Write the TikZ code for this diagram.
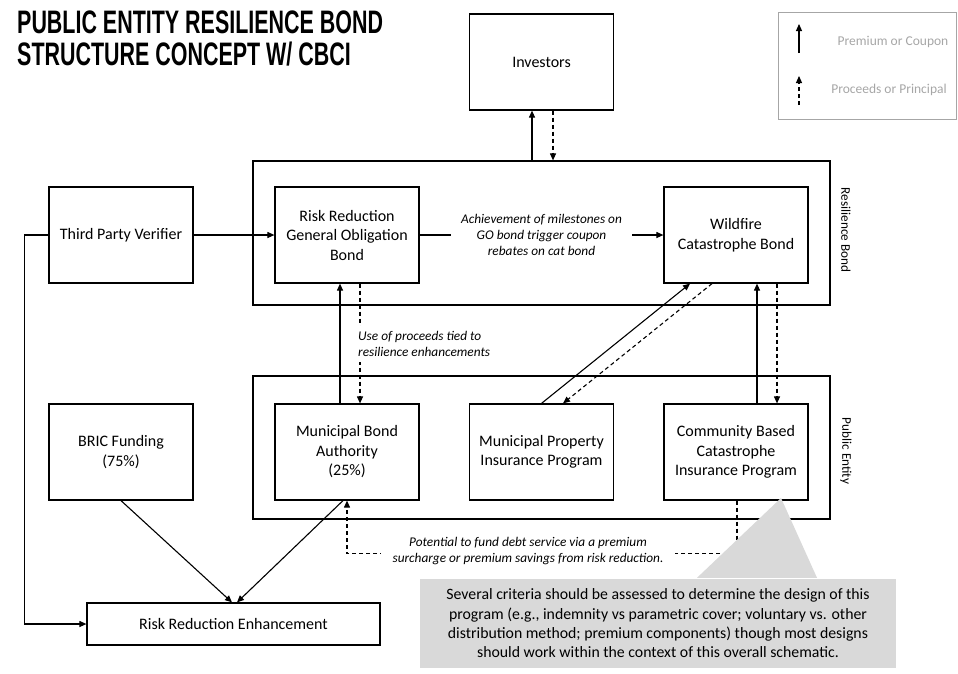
\documentclass[tikz,border=0pt]{standalone}
\usepackage{fontspec}
\setmainfont{Carlito}
\newfontfamily\titlefont[FakeStretch=0.66]{Liberation Sans Bold}
\usetikzlibrary{arrows.meta,positioning}
\definecolor{calloutgray}{HTML}{D9D9D9}
\definecolor{legendgray}{HTML}{A6A6A6}

\begin{document}
\begin{tikzpicture}[x=1pt,y=-1pt,
      block/.style={draw,line width=1.2pt,minimum width=144pt,minimum height=96pt,inner sep=2pt,align=center,font=\fontsize{16}{19.5}\selectfont},
      frame/.style={draw,line width=1.2pt,minimum width=577pt,minimum height=144pt,inner sep=0pt},
      note/.style={fill=white,align=center,font=\fontsize{13.3}{16}\selectfont\itshape},
      side/.style={rotate=-90,inner sep=1pt,font=\fontsize{13.2}{15}\selectfont},
      legendtext/.style={text=legendgray,inner sep=1pt,font=\fontsize{13.5}{15}\selectfont},
      flow/.style={-{Triangle[length=7pt,width=6pt]},line width=1.1pt},
      fund/.style={flow,dash pattern=on 4pt off 3pt}
    ]
      \useasboundingbox (0,0) rectangle (958,673);

      % title and legend
      \node[anchor=north west,align=left,inner sep=0pt,font=\titlefont\fontsize{32.5}{32}\selectfont] (title) at (17,11) {PUBLIC ENTITY RESILIENCE BOND\\STRUCTURE CONCEPT W/ CBCI};
      \node[draw=legendgray,line width=1pt,minimum width=178pt,minimum height=107pt] (legend) at (867,65.5) {};
      \coordinate (lsol) at (799,53);
      \coordinate (lsoltip) at (799,24);
      \coordinate (lfund) at (799,105);
      \coordinate (lfundtip) at (799,76);
      \draw[flow] (lsol) -- (lsoltip);
      \draw[fund] (lfund) -- (lfundtip);
      \node[legendtext] (lprem) at (893,42) {Premium or Coupon};
      \node[legendtext] (lproc) at (889,90) {Proceeds or Principal};

      % frames
      \node[frame] (rbond) at (541.5,233) {};
      \node[side] (rbondlab) at (846,230) {Resilience Bond};
      \node[frame,minimum height=143pt] (pent) at (541.5,447.5) {};
      \node[side] (pentlab) at (846,451) {Public Entity};

      % blocks
      \node[block] (inv) at (541.5,62) {Investors};
      \node[block] (tpv) at (121,235) {Third Party Verifier};
      \node[block] (gob) at (347,235) {Risk Reduction\\General Obligation\\Bond};
      \node[block] (cat) at (736,235) {Wildfire\\Catastrophe Bond};
      \node[block] (bric) at (121,452) {BRIC Funding\\(75\%)};
      \node[block] (mba) at (347,452) {Municipal Bond\\Authority\\(25\%)};
      \node[block] (mpip) at (541.5,452) {Municipal Property\\Insurance Program};
      \node[block] (cbci) at (736,452) {Community Based\\Catastrophe\\Insurance Program};
      \node[block,minimum width=293pt,minimum height=42pt] (rre) at (233.5,624) {Risk Reduction Enhancement};

      % flows
      \draw[flow] ([xshift=-9.5pt]rbond.north) -- ([xshift=-9.5pt]inv.south);
      \draw[fund] ([xshift=11.5pt]inv.south) -- ([xshift=11.5pt]rbond.north);
      \draw[flow] (tpv) -- (gob);
      \draw[flow] (gob) -- node[note,inner xsep=10pt]{Achievement of milestones on\\GO bond trigger coupon\\rebates on cat bond} (cat);
      \draw[flow] (tpv.west) -- ++(-24,0) |- (rre.west);

      \draw[flow] ([xshift=-7pt]mba.north) -- ([xshift=-7pt]gob.south);
      \draw[fund] ([xshift=13pt]gob.south) -- ([xshift=13pt]mba.north);
      \node[note,anchor=west,align=left,inner xsep=2pt,inner ysep=5pt] (useproc) at (356,344) {Use of proceeds tied to\\resilience enhancements};

      \draw[flow] (mpip.north) -- ([xshift=-46pt]cat.south);
      \draw[fund] ([xshift=-24pt]cat.south) -- ([xshift=21.5pt]mpip.north);
      \draw[flow] ([xshift=21pt]cbci.north) -- ([xshift=21pt]cat.south);
      \draw[fund] ([xshift=41pt]cat.south) -- ([xshift=41pt]cbci.north);

      \draw[flow] (bric.south) -- ([xshift=-1.5pt]rre.north);
      \draw[flow] ([xshift=-4pt]mba.south) -- ([xshift=3.5pt]rre.north);
      \draw[fund] ([xshift=1pt]cbci.south) -- ++(0,53) -| (mba.south);
      \node[note,inner xsep=12pt,inner ysep=2pt] (fundnote) at (528,551) {Potential to fund debt service via a premium\\surcharge or premium savings from risk reduction.};

      % callout
      \node[fill=calloutgray,minimum width=476pt,minimum height=89pt,inner sep=0pt,align=center,font=\fontsize{15.8}{19.3}\selectfont] (callout) at (658,623.5) {Several criteria should be assessed to determine the design of this\\program (e.g., indemnity vs parametric cover; voluntary vs. other\\distribution method; premium components) though most designs\\should work within the context of this overall schematic.};
      \coordinate (apex) at (781,498);
      \fill[calloutgray] ([xshift=39pt,yshift=1pt]callout.north) -- (apex) -- ([xshift=159pt,yshift=1pt]callout.north) -- cycle;
    \end{tikzpicture}
\end{document}
